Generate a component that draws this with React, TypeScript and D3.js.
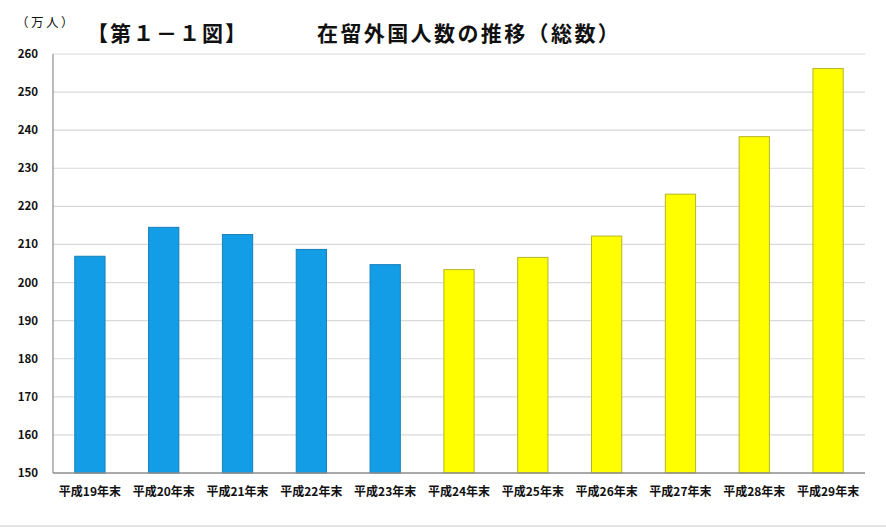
import React, { useEffect, useRef } from "react";
import * as d3 from "d3";

const categories = ["平成19年末","平成20年末","平成21年末","平成22年末","平成23年末","平成24年末","平成25年末","平成26年末","平成27年末","平成28年末","平成29年末"];
const values = [206.9, 214.5, 212.6, 208.7, 204.7, 203.4, 206.6, 212.2, 223.2, 238.3, 256.2];
const yTicks = [150,160,170,180,190,200,210,220,230,240,250,260];
const yearSplit = 5; // first 5 bars blue, rest yellow

const W = 886, H = 532;
const M = { left: 53, right: 21, top: 54, bottom: 59 };
const FONT = "'Noto Sans CJK JP', 'Noto Sans', sans-serif";

export default function App() {
  const ref = useRef<SVGSVGElement>(null);
  useEffect(() => {
    const svg = d3.select(ref.current);
    svg.selectAll("*").remove();
    const x = d3.scaleBand<string>().domain(categories).range([M.left, W - M.right]).paddingInner(0.59).paddingOuter(0.295);
    const y = d3.scaleLinear().domain([150, 260]).range([H - M.bottom, M.top]);

    svg.append("rect").attr("width", W).attr("height", H).attr("fill", "#fff");

    // gridlines
    svg.append("g").selectAll("line").data(yTicks.filter(t => t > 150)).join("line")
      .attr("x1", M.left).attr("x2", W - M.right)
      .attr("y1", d => y(d)).attr("y2", d => y(d))
      .attr("stroke", "#d9d9d9").attr("stroke-width", 1.2);

    // y tick labels
    svg.append("g").selectAll("text").data(yTicks).join("text")
      .attr("x", 38).attr("y", d => y(d)).attr("dy", "0.35em")
      .attr("text-anchor", "end").attr("font-family", FONT).attr("font-size", 11.5)
      .attr("font-weight", 600).attr("fill", "#111").text(d => d);

    // bars
    svg.append("g").selectAll("rect").data(values).join("rect")
      .attr("x", (d, i) => x(categories[i])!)
      .attr("y", d => y(d))
      .attr("width", x.bandwidth())
      .attr("height", d => y(150) - y(d))
      .attr("fill", (d, i) => i < yearSplit ? "#139de6" : "#ffff00")
      .attr("stroke", (d, i) => i < yearSplit ? "#1680b8" : "#b5b52a")
      .attr("stroke-width", 1);

    // axes lines
    svg.append("line").attr("x1", M.left).attr("x2", M.left).attr("y1", M.top).attr("y2", y(150))
      .attr("stroke", "#8c8c8c").attr("stroke-width", 1.2);
    svg.append("line").attr("x1", M.left).attr("x2", W - M.right).attr("y1", y(150)).attr("y2", y(150))
      .attr("stroke", "#8c8c8c").attr("stroke-width", 1.5);

    // x labels
    svg.append("g").selectAll("text").data(categories).join("text")
      .attr("x", d => x(d)! + x.bandwidth() / 2).attr("y", 492).attr("dy", "0.35em")
      .attr("text-anchor", "middle").attr("font-family", FONT).attr("font-size", 12)
      .attr("font-weight", 700).attr("fill", "#111").text(d => d);

    // titles
    svg.append("text").attr("x", 16).attr("y", 27).attr("font-family", FONT).attr("font-size", 12.5)
      .attr("letter-spacing", 2.5).attr("fill", "#111").text("（万人）");
    svg.append("text").attr("x", 87).attr("y", 41).attr("font-family", FONT).attr("font-size", 21)
      .attr("letter-spacing", 2).attr("font-weight", 700).attr("fill", "#111").text("【第１－１図】");
    svg.append("text").attr("x", 317).attr("y", 41).attr("font-family", FONT).attr("font-size", 21)
      .attr("letter-spacing", 2.4).attr("font-weight", 700).attr("fill", "#111").text("在留外国人数の推移（総数）");

    // bottom rule
    svg.append("line").attr("x1", 0).attr("x2", W).attr("y1", 526).attr("y2", 526)
      .attr("stroke", "#dcdcdc").attr("stroke-width", 1.5);
  }, []);
  return (
    <svg ref={ref} width={W} height={H} style={{ position: "absolute", left: 0, top: 0, display: "block" }} />
  );
}
